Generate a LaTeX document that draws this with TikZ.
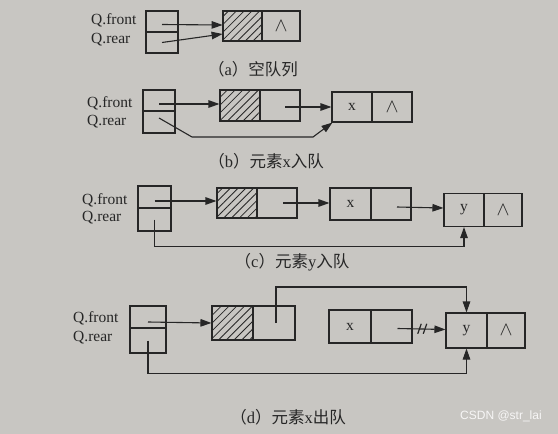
\documentclass[tikz,border=0pt]{standalone}
\usepackage{fontspec}
\setmainfont{Liberation Serif}
\newfontfamily\cjkfont{Noto Sans CJK SC}
\newfontfamily\wmfont{Liberation Sans}
\usetikzlibrary{arrows.meta,patterns.meta,calc}
\definecolor{bg}{RGB}{200,198,194}
\definecolor{ink}{RGB}{38,38,38}
\newcommand\zh[1]{{\cjkfont #1}}
\newcommand\nil{\scalebox{1.35}{$\wedge$}}
\begin{document}
\begin{tikzpicture}[x=1pt,y=-1pt,
 cell/.style={draw=ink,line width=1.1pt,inner sep=0pt,minimum width=40pt,minimum height=31pt,font=\fontsize{15.5}{15.5}\selectfont,text=ink},
 hatch/.style={cell,pattern={Lines[angle=45,distance=5.5pt,line width=0.8pt]},pattern color=ink},
 qcell/.style={draw=ink,line width=1.1pt,inner sep=0pt,minimum width=33pt,minimum height=21pt},
 lbl/.style={anchor=west,inner sep=0pt,font=\fontsize{15.5}{15.5}\selectfont,text=ink},
 captext/.style={inner sep=0pt,font=\fontsize{16.5}{17}\selectfont,text=ink},
 arr/.style={draw=ink,line width=1.1pt,-{Triangle[length=11pt,width=7.5pt]}},
 slash/.style={draw=ink,line width=1.2pt},
]
\fill[bg] (0,0) rectangle (558,434);
\useasboundingbox (0,0) rectangle (558,434);

% (a)
\node[lbl] (la1) at (91,20) {Q.front};
\node[lbl] (la2) at (91,40) {Q.rear};
\node[qcell,minimum width=32pt] (qaf) at (162,21.5) {};
\node[qcell,minimum width=32pt] (qar) at (162,42.5) {};
\node[hatch,minimum width=39pt,minimum height=30pt] (a1) at (242.5,26) {};
\node[cell,minimum width=38pt,minimum height=30pt] (a2) at (281,26) {\nil};
\draw[arr] ([yshift=-3pt]qaf.center) -- ([yshift=1pt]a1.west);
\draw[arr] (qar.center) -- ([yshift=-8pt]a1.west);
\node[captext] (ca) at (253,69) {\zh{（}a\zh{）空队列}};

% (b)
\node[lbl] (lb1) at (87,103) {Q.front};
\node[lbl] (lb2) at (87,122) {Q.rear};
\node[qcell,minimum width=32pt] (qbf) at (159,100.5) {};
\node[qcell,minimum width=32pt,minimum height=22pt] (qbr) at (159,122) {};
\node[hatch] (b1) at (240,105.5) {};
\node[cell] (b2) at (280,105.5) {};
\node[cell,minimum height=30pt] (bx) at (352,107) {x};
\node[cell,minimum height=30pt] (bx2) at (392,107) {\nil};
\draw[arr] ([yshift=-3.5pt]qbf.center) -- ([yshift=1.5pt]b1.west);
\draw[arr] ([xshift=5pt,yshift=-1.5pt]b2.center) -- (bx.west);
\draw[arr] ([yshift=4pt]qbr.center) -- ++(33,19) -- ++(121,0) -- ([xshift=1pt]bx.south west);
\node[captext] (cb) at (266,161) {\zh{（}b\zh{）元素}x\zh{入队}};

% (c)
\node[lbl] (lc1) at (82,200) {Q.front};
\node[lbl] (lc2) at (82,218) {Q.rear};
\node[qcell,minimum height=22pt] (qcf) at (154.5,197) {};
\node[qcell,minimum height=23pt] (qcr) at (154.5,219.5) {};
\node[hatch,minimum height=30pt] (c1) at (237,203) {};
\node[cell,minimum height=30pt] (c2) at (277,203) {};
\node[cell,minimum width=41pt,minimum height=32pt] (cx) at (350.5,204) {x};
\node[cell,minimum height=32pt] (cx2) at (391,204) {};
\node[cell,minimum height=33pt] (cy) at (464,210) {y};
\node[cell,minimum width=38pt,minimum height=33pt] (cy2) at (503,210) {\nil};
\draw[arr] ([yshift=-4pt]qcf.center) -- ([yshift=2pt]c1.west);
\draw[arr] ([xshift=6pt]c2.center) -- ([yshift=1pt]cx.west);
\draw[arr] ([xshift=6pt,yshift=-3pt]cx2.center) -- ([yshift=2pt]cy.west);
\draw[arr] (qcr.center) -- ++(0,27) -| (cy.south);
\node[captext] (cc) at (292,262) {\zh{（}c\zh{）元素}y\zh{入队}};

% (d)
\node[lbl] (ld1) at (73,318) {Q.front};
\node[lbl] (ld2) at (73,338) {Q.rear};
\node[qcell,minimum width=36pt,minimum height=22pt] (qdf) at (148,317) {};
\node[qcell,minimum width=36pt,minimum height=25pt] (qdr) at (148,340.5) {};
\node[hatch,minimum width=41pt,minimum height=34pt] (d1) at (232.5,323) {};
\node[cell,minimum width=42pt,minimum height=34pt] (d2) at (274,323) {};
\node[cell,minimum width=42pt,minimum height=33pt] (dx) at (350,326.5) {x};
\node[cell,minimum width=41pt,minimum height=33pt] (dx2) at (391.5,326.5) {};
\node[cell,minimum width=41pt,minimum height=35pt] (dy) at (466.5,330.5) {y};
\node[cell,minimum width=38pt,minimum height=35pt] (dy2) at (506,330.5) {\nil};
\draw[arr] ([yshift=-5pt]qdf.center) -- (d1.west);
\draw[arr] ([xshift=2pt]d2.center) -- ++(0,-36) -| (dy.north);
\draw[arr] ([xshift=6pt,yshift=-2pt]dx2.center) -- ([yshift=1pt]dy.west);
\coordinate (sl) at ($(dx2.center)!0.57!(dy.west)$);
\draw[slash] ([xshift=-4.5pt,yshift=-5pt]sl) -- ([xshift=-1pt,yshift=5pt]sl);
\draw[slash] ([xshift=1pt,yshift=-5pt]sl) -- ([xshift=4.5pt,yshift=5pt]sl);
\draw[arr] (qdr.center) -- ++(0,33) -| (dy.south);
\node[captext] (cd) at (288,417) {\zh{（}d\zh{）元素}x\zh{出队}};

\node[inner sep=0pt,font=\wmfont\fontsize{12}{12}\selectfont,text=white!85!bg] (wm) at (501,416) {CSDN @str\_lai};
\end{tikzpicture}
\end{document}
